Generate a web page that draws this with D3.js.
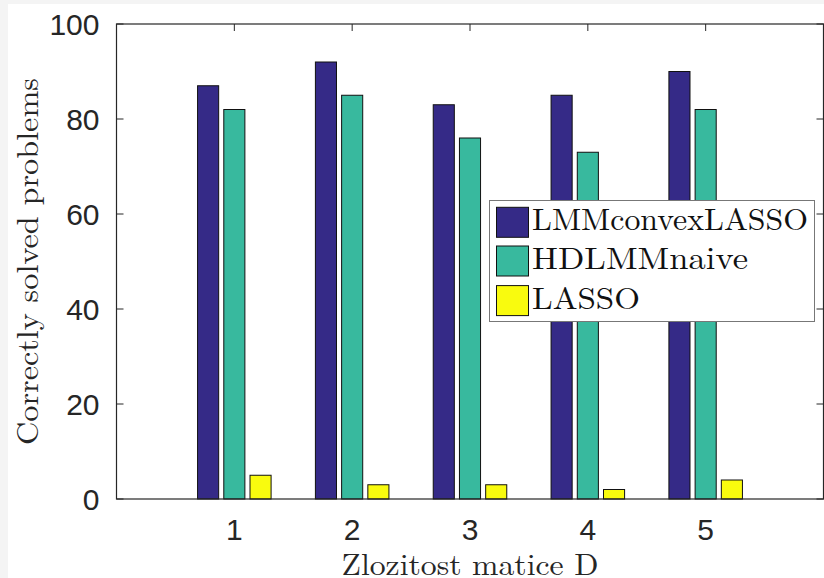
<!DOCTYPE html>
<html><head><meta charset="utf-8">
<script src="https://cdn.jsdelivr.net/npm/d3@7"></script>
<style>html,body{margin:0;padding:0;background:#f4f4f4;}svg{display:block;}</style>
</head><body>
<svg id="c" width="824" height="578"></svg>
<script>
const categories = [1, 2, 3, 4, 5];
const seriesNames = ["LMMconvexLASSO", "HDLMMnaive", "LASSO"];
const lmmConvexLasso = [87, 92, 83, 85, 90];
const hdlmmNaive = [82, 85, 76, 73, 82];
const lasso = [5, 3, 3, 2, 4];
const seriesColors = ["#352a87", "#38b99e", "#f9fb0e"];
const yTicks = [0, 20, 40, 60, 80, 100];
const xLabel = "Zlozitost matice D";
const yLabel = "Correctly solved problems";

const series = [lmmConvexLasso, hdlmmNaive, lasso];
const svg = d3.select("#c");
svg.append("rect").attr("x", 8).attr("y", 4).attr("width", 816).attr("height", 574).attr("fill", "#fff");

const SERIF = '"Latin Modern Roman", "Liberation Serif", serif';
const SANS = '"Liberation Sans", Arial, sans-serif';

const L = 116.5, R = 823.5, T = 24, B = 499;
const x = d3.scaleLinear().domain([0, 6]).range([L, R]);
const y = d3.scaleLinear().domain([0, 100]).range([B, T]);
const axisColor = "#262626";
const tickLen = 7;

const g = svg.append("g");
g.selectAll(".yt").data(yTicks).enter().append("line")
  .attr("x1", L).attr("x2", L + tickLen).attr("y1", d => y(d)).attr("y2", d => y(d))
  .attr("stroke", axisColor).attr("stroke-width", 1);
g.selectAll(".yt2").data(yTicks).enter().append("line")
  .attr("x1", R).attr("x2", R - tickLen).attr("y1", d => y(d)).attr("y2", d => y(d))
  .attr("stroke", axisColor).attr("stroke-width", 1);
g.selectAll(".xt").data(categories).enter().append("line")
  .attr("x1", d => x(d)).attr("x2", d => x(d)).attr("y1", T).attr("y2", T + tickLen)
  .attr("stroke", axisColor).attr("stroke-width", 1);
g.selectAll(".xt2").data(categories).enter().append("line")
  .attr("x1", d => x(d)).attr("x2", d => x(d)).attr("y1", B).attr("y2", B - tickLen)
  .attr("stroke", axisColor).attr("stroke-width", 1);

const bw = x(0.179) - x(0);
const off = 0.2225;
series.forEach((vals, j) => {
  svg.append("g").selectAll("rect").data(vals).enter().append("rect")
    .attr("x", (d, i) => x(categories[i] + (j - 1) * off) - bw / 2)
    .attr("y", d => y(d))
    .attr("width", bw)
    .attr("height", d => y(0) - y(d))
    .attr("fill", seriesColors[j])
    .attr("stroke", "#111").attr("stroke-width", 1);
});

svg.append("rect").attr("x", L).attr("y", T).attr("width", R - L).attr("height", B - T)
  .attr("fill", "none").attr("stroke", axisColor).attr("stroke-width", 1.2);

svg.selectAll(".yl").data(yTicks).enter().append("text")
  .style("font-family", SANS)
  .attr("x", 99.5).attr("y", d => y(d)).attr("dy", "0.36em")
  .attr("text-anchor", "end")
  .attr("font-size", 30).attr("fill", axisColor).text(d => d);
svg.selectAll(".xl").data(categories).enter().append("text")
  .style("font-family", SANS)
  .attr("x", d => x(d)).attr("y", 540)
  .attr("text-anchor", "middle")
  .attr("font-size", 30).attr("fill", axisColor).text(d => d);

svg.append("text").style("font-family", SERIF).attr("x", (L + R) / 2).attr("y", 574.5).attr("text-anchor", "middle")
  .attr("font-size", 30).attr("fill", axisColor)
  .attr("textLength", 257).attr("lengthAdjust", "spacingAndGlyphs").text(xLabel);
svg.append("text").style("font-family", SERIF).attr("transform", `translate(37.5,${(T + B) / 2}) rotate(-90)`)
  .attr("text-anchor", "middle").attr("font-size", 30).attr("fill", axisColor)
  .attr("textLength", 367).attr("lengthAdjust", "spacingAndGlyphs").text(yLabel);

const lg = svg.append("g");
lg.append("rect").attr("x", 489.5).attr("y", 200.5).attr("width", 325).attr("height", 121)
  .attr("fill", "#fff").attr("stroke", "#777").attr("stroke-width", 1);
const rowY = [222.3, 261, 300.6];
const textW = [276, 216, 108];
seriesNames.forEach((name, j) => {
  lg.append("rect").attr("x", 496.5).attr("y", rowY[j] - 15).attr("width", 32).attr("height", 30)
    .attr("fill", seriesColors[j]).attr("stroke", "#111").attr("stroke-width", 1);
  lg.append("text").style("font-family", SERIF).attr("x", 532).attr("y", rowY[j] + 8)
    .attr("font-size", 31).attr("fill", "#111")
    .attr("textLength", textW[j]).attr("lengthAdjust", "spacingAndGlyphs").text(name);
});
</script>
</body></html>
